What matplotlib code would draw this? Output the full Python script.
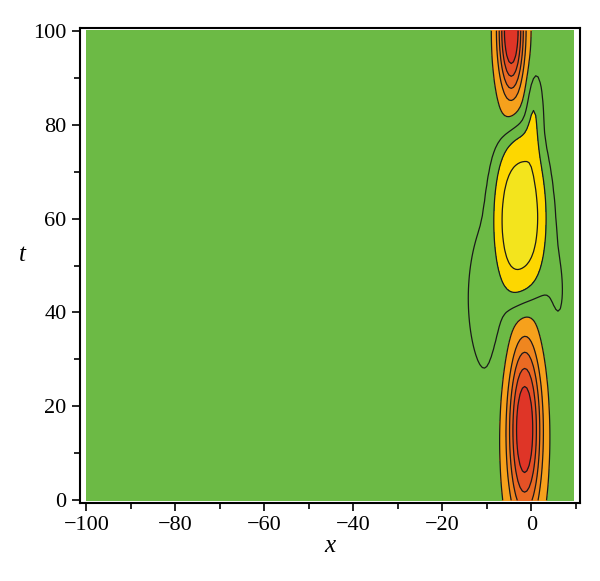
import numpy as np
import matplotlib.pyplot as plt
from matplotlib.ticker import MultipleLocator

# domain of the plot
x_range = [-100, 9.5]
t_range = [0, 100]

# bumps: centre x, centre t, width x, width t, height, shape power
bump_x = [-1.5, -4.5, -2.5, 0.5, -3.4]
bump_t = [16.0, 100.0, 61.0, 82.0, 43.0]
bump_sx = [3.0, 2.3, 4.8, 1.2, 7.5]
bump_st = [15.5, 10.5, 15.0, 6.0, 16.0]
bump_amp = [1.0, 1.0, -0.6, -0.25, -0.14]
bump_pow = [2, 2, 4, 2, 2]

# contour levels and fill colours (Maple style)
levels = [-2.0, -0.53, -0.25, -0.05, 0.15, 0.35, 0.5, 0.65, 0.8, 3.0]
fill_colors = ['#F3E41D', '#FDD700', '#6CBA45', '#6CBA45', '#F6A11C',
               '#EF861F', '#EA6A23', '#E55126', '#DF3527']

x = np.arange(x_range[0], x_range[1] + 0.01, 0.5)
t = np.arange(t_range[0], t_range[1] + 0.01, 1.0)
X, T = np.meshgrid(x, t)
Z = np.zeros_like(X)
for cx, ct, sx, st, a, p in zip(bump_x, bump_t, bump_sx, bump_st, bump_amp, bump_pow):
    r2 = ((X - cx) / sx) ** 2 + ((T - ct) / st) ** 2
    Z += a * np.exp(-0.5 * r2 ** (p / 2))

plt.rcParams['font.family'] = ['Liberation Serif', 'DejaVu Serif']
fig = plt.figure(figsize=(6, 5.81), dpi=100)
ax = fig.add_axes([0.133, 0.134, 0.834, 0.818])

ax.contourf(X, T, Z, levels=levels, colors=fill_colors)
ax.contour(X, T, Z, levels=levels[1:-1], colors='#1a1a1a',
           linewidths=0.9, linestyles='solid')

ax.set_xlim(-101.5, 11)
ax.set_ylim(-0.6, 100.6)
ax.xaxis.set_major_locator(MultipleLocator(20))
ax.xaxis.set_minor_locator(MultipleLocator(10))
ax.yaxis.set_major_locator(MultipleLocator(20))
ax.yaxis.set_minor_locator(MultipleLocator(10))
ax.tick_params(which='both', direction='out', labelsize=16, width=1.2)
ax.tick_params(which='major', length=6)
ax.tick_params(which='minor', length=4)
for s in ax.spines.values():
    s.set_linewidth(1.5)

ax.set_xlabel('x', fontsize=18, style='italic', labelpad=0)
ax.set_ylabel('t', fontsize=18, style='italic', rotation=0, labelpad=8)

plt.savefig('out.png')
